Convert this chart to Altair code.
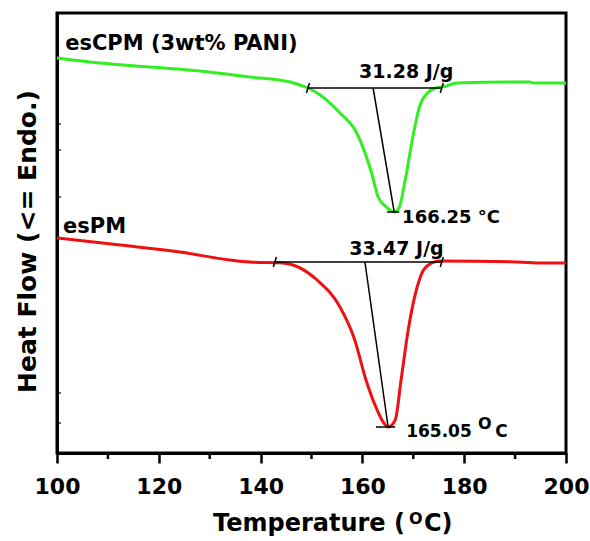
import altair as alt
import pandas as pd

# DSC thermograms: temperature (deg C) and heat flow (arbitrary, offset units)
green_t = [100, 108.4, 118.3, 128.1, 137.9, 145.8, 147.7, 149.3, 151.7, 155.6, 158.9,
           161.8, 163.1, 164.7, 166.25, 167.2, 168.3, 169.8, 171.2, 172.8, 174.4, 175.8,
           178.6, 192.9, 193.5, 200]
green_hf = [39.5, 39.0, 38.6, 38.2, 37.6, 37.1, 36.8, 36.5, 35.8, 34.0, 32.0,
            28.0, 25.6, 24.6, 24.1, 24.5, 27.0, 31.3, 34.6, 36.0, 36.5, 36.6,
            37.0, 37.1, 37.0, 37.0]

red_t = [100, 112.4, 124.2, 134.0, 137.9, 144.4, 151.1, 155.6, 158.5, 160.7, 162.9,
         164.2, 165.05, 166.45, 167.6, 169.0, 170.6, 172.0, 173.6, 175.2, 190.4, 195.5, 200]
red_hf = [21.5, 20.8, 20.1, 19.3, 19.1, 19.0, 17.3, 14.6, 11.3, 7.3, 4.3,
          3.0, 2.6, 3.3, 7.3, 12.3, 16.3, 18.3, 19.0, 19.2, 19.1, 19.0, 19.0]

series_names = ["esCPM (3wt% PANI)", "esPM"]
series_colors = ["#33ee22", "#ee1111"]

# Peak temperatures and melting enthalpies
peak_t = [166.25, 165.05]
peak_hf = [24.1, 2.6]
enthalpy = ["31.28 J/g", "33.47 J/g"]

# Integration baselines (start T, end T, level) and peak drop lines (start T)
base_start = [149.3, 142.8]
base_end = [175.6, 175.6]
base_level = [36.5, 19.1]
drop_start = [162.1, 160.5]
peak_tick_left = [1.4, 2.4]
peak_tick_right = [1.0, 1.4]

x_major = [100, 120, 140, 160, 180, 200]
x_minor = [110, 130, 150, 170, 190]
y_inner_ticks = [32.9, 30.3, 25.6, 6.0, 3.0]

FONT = "DejaVu Sans"

x_scale = alt.Scale(domain=[100, 200], nice=False, zero=False)
y_scale = alt.Scale(domain=[0, 44], nice=False, zero=False)

curves = pd.concat([
    pd.DataFrame({"t": green_t, "hf": green_hf, "series": series_names[0]}),
    pd.DataFrame({"t": red_t, "hf": red_hf, "series": series_names[1]}),
])

x_enc = alt.X("t:Q", scale=x_scale, title="",
              axis=alt.Axis(values=x_major, format="d", grid=False, labelFlush=False,
                            labelFont=FONT, labelFontWeight="bold", labelFontSize=22,
                            labelColor="black", labelPadding=13,
                            tickColor="black", tickWidth=2.5, tickSize=10,
                            domainColor="black", domainWidth=3))
y_enc = alt.Y("hf:Q", scale=y_scale, title="Heat Flow (<= Endo.)",
              axis=alt.Axis(labels=False, ticks=False, grid=False,
                            domainColor="black", domainWidth=3,
                            titleFont=FONT, titleFontWeight="bold", titleFontSize=25,
                            titleColor="black", titleAngle=270, titleAlign="center",
                            titleBaseline="alphabetic", titleX=-22, titleY=228))

lines = alt.Chart(curves).mark_line(strokeWidth=3, interpolate="monotone").encode(
    x=x_enc, y=y_enc,
    color=alt.Color("series:N", scale=alt.Scale(domain=series_names, range=series_colors),
                    legend=None),
    detail="series:N",
)

# Construction lines: baseline, drop line to the peak, and short peak marker
segs = []
for i in range(2):
    segs.append({"t": base_start[i], "hf": base_level[i], "t2": base_end[i], "hf2": base_level[i]})
    segs.append({"t": drop_start[i], "hf": base_level[i], "t2": peak_t[i], "hf2": peak_hf[i]})
    segs.append({"t": peak_t[i] - peak_tick_left[i], "hf": peak_hf[i],
                 "t2": peak_t[i] + peak_tick_right[i], "hf2": peak_hf[i]})
    for te in (base_start[i], base_end[i]):
        segs.append({"t": te - 0.3, "hf": base_level[i] - 0.5, "t2": te + 0.3, "hf2": base_level[i] + 0.5})
seg_df = pd.DataFrame(segs)

constr = alt.Chart(seg_df).mark_rule(color="black", strokeWidth=1.5).encode(
    x=alt.X("t:Q", scale=x_scale), y=alt.Y("hf:Q", scale=y_scale),
    x2="t2:Q", y2="hf2:Q",
)

minor = alt.Chart(pd.DataFrame({"t": x_minor})).mark_rule(color="black", strokeWidth=2.5).encode(
    x=alt.X("t:Q", scale=x_scale), y=alt.value(440), y2=alt.value(446),
)

inner = alt.Chart(pd.DataFrame({"hf": y_inner_ticks})).mark_rule(color="black", strokeWidth=1.2).encode(
    y=alt.Y("hf:Q", scale=y_scale), x=alt.value(0), x2=alt.value(4),
)

# Series names
name_df = pd.DataFrame({"t": [101.6, 101.2], "hf": [40.3, 22.0], "label": series_names})
names = alt.Chart(name_df).mark_text(
    align="left", baseline="alphabetic", font=FONT, fontWeight="bold", fontSize=21, color="black"
).encode(x=alt.X("t:Q", scale=x_scale), y=alt.Y("hf:Q", scale=y_scale), text="label:N")

# Enthalpy labels above the baselines
enth_df = pd.DataFrame({"t": [168.6, 166.7], "hf": [37.5, 19.8], "label": enthalpy})
enth = alt.Chart(enth_df).mark_text(
    align="center", baseline="alphabetic", font=FONT, fontWeight="bold", fontSize=19, color="black"
).encode(x=alt.X("t:Q", scale=x_scale), y=alt.Y("hf:Q", scale=y_scale), text="label:N")

# Peak temperature labels
pk1_df = pd.DataFrame({"t": [167.8], "hf": [23.0], "label": [f"{peak_t[0]:.2f} \u00b0C"]})
pk1 = alt.Chart(pk1_df).mark_text(
    align="left", baseline="alphabetic", font=FONT, fontWeight="bold", fontSize=18, color="black"
).encode(x=alt.X("t:Q", scale=x_scale), y=alt.Y("hf:Q", scale=y_scale), text="label:N")

pk2_df = pd.DataFrame({"t": [168.6, 186.1], "hf": [1.6, 1.6], "label": [f"{peak_t[1]:.2f}", "C"]})
pk2 = alt.Chart(pk2_df).mark_text(
    align="left", baseline="alphabetic", font=FONT, fontWeight="bold", fontSize=17, color="black"
).encode(x=alt.X("t:Q", scale=x_scale), y=alt.Y("hf:Q", scale=y_scale), text="label:N")

pk2o_df = pd.DataFrame({"t": [182.7], "hf": [2.4], "label": ["O"]})
pk2o = alt.Chart(pk2o_df).mark_text(
    align="left", baseline="alphabetic", font=FONT, fontWeight="bold", fontSize=16, color="black"
).encode(x=alt.X("t:Q", scale=x_scale), y=alt.Y("hf:Q", scale=y_scale), text="label:N")

# X axis title with superscript degree
title_df = pd.DataFrame({"px": [156, 352, 367], "py": [518, 511, 518],
                         "label": ["Temperature (", "O", "C)"],
                         "fs": [24, 16, 24]})
xtitle = alt.Chart(title_df).mark_text(
    align="left", baseline="alphabetic", font=FONT, fontWeight="bold", color="black"
).encode(x=alt.X("px:Q", scale=None), y=alt.Y("py:Q", scale=None), text="label:N",
         size=alt.Size("fs:Q", scale=None, legend=None))

chart = alt.layer(lines, constr, minor, inner, names, enth, pk1, pk2, pk2o, xtitle).properties(
    width=509, height=440,
    autosize=alt.AutoSizeParams(type="none"),
    padding={"left": 57, "top": 13, "right": 24, "bottom": 88},
    background="white",
).configure_view(stroke="black", strokeWidth=3)

chart.save("out.html", embed_options={"renderer": "svg", "actions": False})
